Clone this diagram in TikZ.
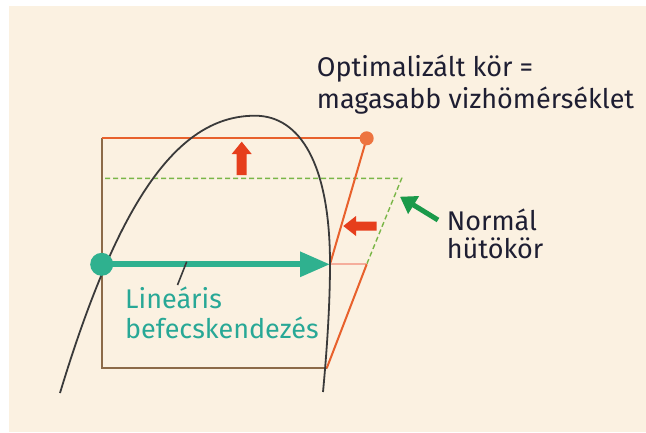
\documentclass[tikz,border=0pt]{standalone}
\usepackage{fontspec}
\setmainfont{Fira Sans}
\usetikzlibrary{arrows.meta}
\definecolor{bg}{RGB}{251,241,225}
\definecolor{orline}{RGB}{232,97,44}
\definecolor{ordot}{RGB}{237,116,64}
\definecolor{redarr}{RGB}{230,62,28}
\definecolor{teal2}{RGB}{47,177,143}
\definecolor{tealtxt}{RGB}{40,168,150}
\definecolor{grdash}{RGB}{122,182,72}
\definecolor{grarr}{RGB}{26,154,74}
\definecolor{brownr}{RGB}{140,106,72}
\definecolor{pinkl}{RGB}{245,174,156}
\definecolor{curvec}{RGB}{58,58,58}
\definecolor{txt}{RGB}{30,30,50}
\tikzset{
  lbl/.style={inner sep=0pt, anchor=base west, text=txt, font=\fontsize{27}{32}\selectfont},
  tlbl/.style={inner sep=0pt, anchor=base west, text=tealtxt, font=\fontsize{27}{32}\selectfont},
  orl/.style={draw=orline, line width=2pt},
  blockarrow/.style={fill=redarr, draw=none},
}
\begin{document}
\begin{tikzpicture}[x=1pt,y=-1pt]
\useasboundingbox (0,0) rectangle (646,432);
\fill[bg] (9,6) rectangle (646,432);

% coordinates
\coordinate (TL) at (101.7,138.3);
\coordinate (OD) at (366.7,138.3);
\coordinate (ST) at (101.7,264.3);
\coordinate (TIP) at (330,264.3);
\coordinate (PR) at (366.7,264.3);
\coordinate (BR) at (326.7,368.3);
\coordinate (BL) at (101.7,368.3);
\coordinate (DL) at (105,178.3);
\coordinate (DR) at (401.7,178.3);

% brown rectangle (left, bottom)
\draw[brownr, line width=2.2pt, line join=miter] (TL) -- (BL) -- (BR);

% green dashed normal cycle
\draw[grdash, line width=1.4pt, dash pattern=on 5pt off 3pt] (DL) -- (DR) -- (PR);

% orange optimized cycle
\draw[orl] (TL) -- (OD);
\draw[orl] (OD) -- (TIP);
\draw[pinkl, line width=2pt] (TIP) -- (PR);
\draw[orl] (PR) -- (BR);

% saturation curve
\coordinate (CB1) at (60,393);
\coordinate (CPK) at (255,115.7);
\coordinate (CRM) at (330,264);
\coordinate (CB2) at (323,392);
\draw[curvec, line width=1.8pt] (CB1) .. controls (120,195) and (180,115.7) .. (CPK)
  .. controls (300,115.7) and (330,164) .. (CRM)
  .. controls (330,310) and (326,360) .. (CB2);

% red block arrows
\fill[blockarrow] (236.7,175) -- (236.7,154) -- (231.7,154) -- (241.7,141.7) -- (251.7,154) -- (246.7,154) -- (246.7,175) -- cycle;
\fill[blockarrow] (376.7,221.5) -- (356,221.5) -- (356,216) -- (343.3,226) -- (356,236) -- (356,230.5) -- (376.7,230.5) -- cycle;

% orange dot
\fill[ordot] (OD) circle (7);

% teal arrow
\draw[teal2, line width=6pt, -{Triangle[length=30pt,width=24pt]}] (ST) -- (TIP);
\fill[teal2] (ST) circle (11.5);

% green arrow
\coordinate (GT) at (400,196.7);
\coordinate (GS) at (438,220);
\draw[grarr, line width=5pt, -{Triangle[length=16pt,width=20pt]}] (GS) -- (GT);

% leader line
\coordinate (LA) at (186.7,261.7);
\coordinate (LB) at (177.5,285);
\draw[curvec, line width=1.6pt] (LA) -- (LB);

% labels
\node[lbl] (opt1) at (316.7,76.7) {Optimalizált kör =};
\node[lbl] (opt2) at (316.7,108) {magasabb vizhömérséklet};
\node[lbl] (nor1) at (446.7,230) {Normál};
\node[lbl] (nor2) at (446.7,258) {hütökör};
\node[tlbl] (lin1) at (125,308) {Lineáris};
\node[tlbl] (lin2) at (125,338) {befecskendezés};
\end{tikzpicture}
\end{document}
